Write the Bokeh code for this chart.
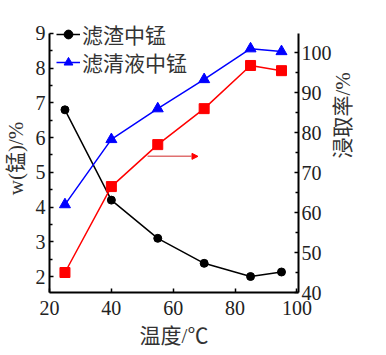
import math
from bokeh.plotting import figure
from bokeh.models import (Range1d, LinearAxis, FixedTicker, Legend, LegendItem,
                          Arrow, NormalHead)
from bokeh.embed import file_html
from bokeh.resources import INLINE

# Data
temperature = [25, 40, 55, 70, 85, 95]
residue_mn = [6.8, 4.2, 3.1, 2.38, 2.0, 2.13]          # left axis, w(Mn)/%
filtrate_mn = [62.0, 78.3, 86.0, 93.3, 101.0, 100.3]  # right axis, %
leach_rate = [45.0, 66.5, 77.0, 86.0, 96.8, 95.5]     # right axis, %
x_ticks = [20, 40, 60, 80, 100]
left_ticks = [2, 3, 4, 5, 6, 7, 8, 9]
right_ticks = [40, 50, 60, 70, 80, 90, 100]
legend_labels = ["滤渣中锰", "滤清液中锰"]
arrow_x = [51.7, 68.0]
arrow_y = [5.46, 5.46]

SERIF = "Liberation Serif, Noto Sans CJK SC"

p = figure(width=380, height=350, output_backend="svg", toolbar_location=None,
           x_range=Range1d(20, 100.5), y_range=Range1d(1.54, 9.257),
           min_border_left=48, min_border_right=82, min_border_top=24,
           min_border_bottom=57)
p.extra_y_ranges = {"right": Range1d(40, 107.05)}
p.outline_line_color = None
p.grid.visible = False
p.background_fill_color = "white"
p.border_fill_color = "white"

# residue (left axis)
r1l = p.line(temperature, residue_mn, line_color="black", line_width=1.5)
r1s = p.scatter(temperature, residue_mn, marker="circle", size=8,
                fill_color="black", line_color="black")
# filtrate (right axis)
r2l = p.line(temperature, filtrate_mn, line_color="#0000ff", line_width=1.5,
             y_range_name="right")
r2s = p.scatter(temperature, filtrate_mn, marker="triangle", size=11,
                fill_color="#0000ff", line_color="#0000ff", y_range_name="right")
# leaching rate (right axis)
p.line(temperature, leach_rate, line_color="#ff0000", line_width=1.5,
       y_range_name="right")
p.scatter(temperature, leach_rate, marker="square", size=10,
          fill_color="#ff0000", line_color="#ff0000", y_range_name="right")

p.add_layout(Arrow(end=NormalHead(size=6, fill_color="#ff0000", line_color="#ff0000"),
                   x_start=arrow_x[0], y_start=arrow_y[0],
                   x_end=arrow_x[1], y_end=arrow_y[1],
                   line_color="#e07070", line_width=1.5))

def style(ax, ticks, nminor):
    ax.ticker = FixedTicker(ticks=ticks)
    if nminor:
        minor = []
        for a, b in zip(ticks[:-1], ticks[1:]):
            minor.append((a + b) / 2)
        ax.ticker.minor_ticks = minor
    ax.axis_line_width = 2
    ax.axis_line_color = "black"
    ax.major_tick_in = 4
    ax.major_tick_out = 0
    ax.minor_tick_in = 3
    ax.minor_tick_out = 0
    ax.major_tick_line_width = 1.5
    ax.minor_tick_line_width = 1.5
    ax.major_label_text_font = SERIF
    ax.major_label_text_font_size = "20px"
    ax.major_label_text_color = "#222222"
    ax.axis_label_text_font = SERIF
    ax.axis_label_text_font_size = "21px"
    ax.axis_label_text_font_style = "normal"
    ax.axis_label_text_color = "#333333"

style(p.xaxis[0], x_ticks, 0)
p.xaxis[0].axis_label = "温度/℃"
p.xaxis[0].major_label_standoff = 8
p.xaxis[0].axis_label_standoff = 6

style(p.yaxis[0], left_ticks, 2)
p.yaxis[0].axis_label = "w(锰)/%"
p.yaxis[0].major_label_standoff = 4
p.yaxis[0].axis_label_standoff = 5
p.yaxis[0].bounds = (1.54, 9.0)

right = LinearAxis(y_range_name="right")
style(right, right_ticks, 2)
right.axis_label = "浸取率/%"
right.axis_label_orientation = math.pi / 2
right.major_label_standoff = 3
right.axis_label_standoff = 8
right.bounds = (40, 104.8)
p.add_layout(right, "right")

def make_legend(label, renderers, loc):
    lg = Legend(items=[LegendItem(label=label, renderers=renderers)], location=loc)
    lg.border_line_color = None
    lg.background_fill_alpha = 0
    lg.padding = 0
    lg.margin = 0
    lg.spacing = 0
    lg.glyph_width = 24
    lg.glyph_height = 22
    lg.label_height = 22
    lg.label_standoff = 2
    lg.label_text_font = SERIF
    lg.label_text_font_size = "21px"
    lg.label_text_line_height = 1.0
    lg.label_text_color = "#333333"
    p.add_layout(lg, "center")

make_legend(legend_labels[0], [r1l, r1s], (7, 243))
make_legend(legend_labels[1], [r2l, r2s], (7, 215))

open("out.html", "w").write(file_html(p, INLINE))
